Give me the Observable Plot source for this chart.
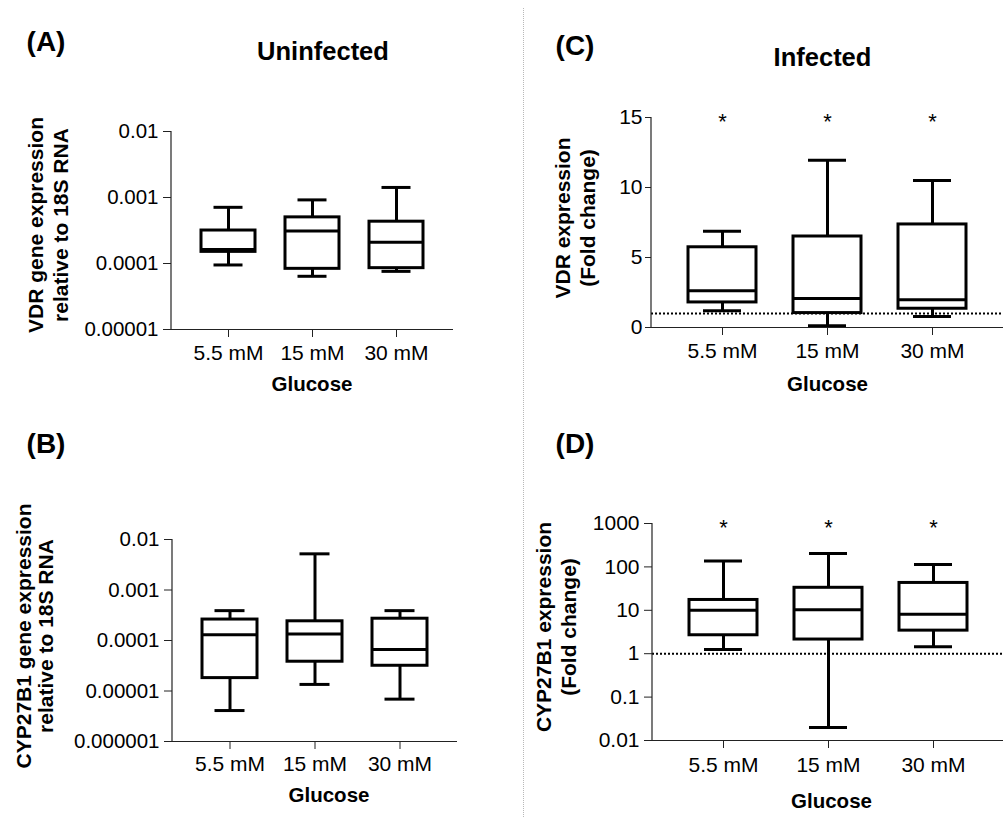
<!DOCTYPE html>
<html>
<head>
<meta charset="utf-8">
<script src="https://cdn.jsdelivr.net/npm/d3@7"></script>
<script src="https://cdn.jsdelivr.net/npm/@observablehq/plot@0.6"></script>
<style>
  html, body { margin: 0; padding: 0; background: #fff; }
  body { width: 1006px; height: 817px; position: relative; overflow: hidden;
         font-family: "Liberation Sans", Arial, sans-serif; color: #000; }
  .t { position: absolute; line-height: 1; white-space: pre; transform: translate(-50%, -50%); }
  .b { font-weight: bold; }
  .panel { position: absolute; }
  .panel svg text { font-family: "Liberation Sans", Arial, sans-serif; }
  .sep { position: absolute; left: 523px; top: 8px; height: 809px; border-left: 1px dotted #b8b8b8; }
</style>
</head>
<body>
<div class="sep"></div>
<script>
// ---------- data ----------
const categories = ["5.5 mM", "15 mM", "30 mM"];

// (A) VDR, uninfected (relative to 18S RNA)
const aMin = [0.000095, 0.000064, 0.000076];
const aQ1  = [0.00015, 0.000083, 0.000085];
const aMed = [0.000163, 0.00031, 0.00021];
const aQ3  = [0.000316, 0.0005, 0.00043];
const aMax = [0.00071, 0.00092, 0.00142];
const aTicks  = [0.00001, 0.0001, 0.001, 0.01];
const aLabels = ["0.00001", "0.0001", "0.001", "0.01"];

// (B) CYP27B1, uninfected
const bMin = [0.0000041, 0.0000135, 0.0000069];
const bQ1  = [0.000018, 0.000038, 0.0000316];
const bMed = [0.00013, 0.000135, 0.0000665];
const bQ3  = [0.00026, 0.00024, 0.00027];
const bMax = [0.00039, 0.0052, 0.00039];
const bTicks  = [0.000001, 0.00001, 0.0001, 0.001, 0.01];
const bLabels = ["0.000001", "0.00001", "0.0001", "0.001", "0.01"];

// (C) VDR, infected (fold change)
const cMin = [1.2, 0.12, 0.79];
const cQ1  = [1.79, 1.03, 1.34];
const cMed = [2.63, 2.08, 1.98];
const cQ3  = [5.73, 6.5, 7.36];
const cMax = [6.88, 11.94, 10.5];
const cTicks  = [0, 5, 10, 15];
const cLabels = ["0", "5", "10", "15"];
const cStars  = ["*", "*", "*"];

// (D) CYP27B1, infected (fold change)
const dMin = [1.25, 0.02, 1.44];
const dQ1  = [2.66, 2.12, 3.4];
const dMed = [10, 10.3, 8.1];
const dQ3  = [17.3, 33, 42.7];
const dMax = [136, 204, 114];
const dTicks  = [0.01, 0.1, 1, 10, 100, 1000];
const dLabels = ["0.01", "0.1", "1", "10", "100", "1000"];
const dStars  = ["*", "*", "*"];

const foldBaseline = 1;

// ---------- helpers ----------
function rowsOf(mn, q1, md, q3, mx) {
  return categories.map((c, i) => ({cat: c, min: mn[i], q1: q1[i], med: md[i], q3: q3[i], max: mx[i]}));
}

function leftAxisLine(index, scales, values, dims) {
  const ns = "http://www.w3.org/2000/svg";
  const l = document.createElementNS(ns, "line");
  l.setAttribute("x1", dims.marginLeft);
  l.setAttribute("x2", dims.marginLeft);
  l.setAttribute("y1", dims.marginTop);
  l.setAttribute("y2", dims.height - dims.marginBottom);
  l.setAttribute("stroke", "#222");
  l.setAttribute("stroke-width", 1.2);
  return l;
}

function panel(o) {
  const L = o.x0 - 130, T = o.y0 - 25;
  const W = Math.min(o.x1 + 3, 1006) - L;
  const H = o.y1 + 45 - T;
  const rows = o.rows;
  const sw = 3;
  const marks = [];
  if (o.ref != null) marks.push(Plot.ruleY([o.ref], {stroke: "#000", strokeWidth: 2, strokeDasharray: "2,2"}));
  marks.push(
    Plot.ruleX(rows, {x: "cat", y1: "q3", y2: "max", stroke: "#000", strokeWidth: sw}),
    Plot.ruleX(rows, {x: "cat", y1: "min", y2: "q1", stroke: "#000", strokeWidth: sw}),
    Plot.tickY(rows, {x: "cat", y: "max", stroke: "#000", strokeWidth: sw, insetLeft: o.capInset, insetRight: o.capInset}),
    Plot.tickY(rows, {x: "cat", y: "min", stroke: "#000", strokeWidth: sw, insetLeft: o.capInset, insetRight: o.capInset}),
    Plot.barY(rows, {x: "cat", y1: "q1", y2: "q3", fill: "#fff", stroke: "#000", strokeWidth: sw}),
    Plot.tickY(rows, {x: "cat", y: "med", stroke: "#000", strokeWidth: sw})
  );
  if (o.stars) {
    marks.push(Plot.text(categories, {x: d => d, y: o.starY, text: (d, i) => o.stars[i],
      fontSize: 22, dy: o.starDy, fill: "#000"}));
  }
  marks.push(
    Plot.ruleY([o.yDomain[0]], {stroke: "#222", strokeWidth: 1.2}),
    leftAxisLine,
    Plot.axisY(o.yTicks, {tickFormat: d => o.yLabels[o.yTicks.indexOf(d)], tickSize: o.tickSizeY,
      tickPadding: o.tickPadY, label: null, stroke: "#222", fontSize: o.fontY, fill: "#000"}),
    Plot.axisX({tickSize: 8, tickPadding: o.tickPadX, label: null, stroke: "#222", fontSize: o.fontX, fill: "#000"})
  );
  const svg = Plot.plot({
    width: W, height: H,
    marginLeft: o.x0 - L, marginRight: L + W - o.x1,
    marginTop: o.y0 - T, marginBottom: T + H - o.y1,
    style: {fontSize: o.fontX + "px", fontFamily: "'Liberation Sans', Arial, sans-serif",
            background: "transparent", color: "#000", maxWidth: "none", overflow: "visible"},
    x: {type: "band", domain: categories, paddingInner: 0.355, paddingOuter: 0.347},
    y: {type: o.yType, domain: o.yDomain, nice: false},
    marks
  });
  const wrap = document.createElement("div");
  wrap.className = "panel";
  wrap.style.left = L + "px";
  wrap.style.top = T + "px";
  wrap.appendChild(svg);
  document.body.appendChild(wrap);
}

function txt(s, cx, cy, size, bold, rot, lh) {
  const d = document.createElement("div");
  d.className = "t" + (bold ? " b" : "");
  d.textContent = s;
  d.style.left = cx + "px";
  d.style.top = cy + "px";
  d.style.fontSize = size + "px";
  if (lh) { d.style.lineHeight = lh + "px"; d.style.textAlign = "center"; }
  if (rot) d.style.transform = "translate(-50%, -50%) rotate(-90deg)";
  document.body.appendChild(d);
}

// ---------- panels ----------
panel({rows: rowsOf(aMin, aQ1, aMed, aQ3, aMax), x0: 171, x1: 453, y0: 131, y1: 329,
  yType: "log", yDomain: [0.00001, 0.01], yTicks: aTicks, yLabels: aLabels,
  tickSizeY: 8, tickPadY: 5, tickPadX: 8, fontX: 21, fontY: 20.5, capInset: 12.5});
panel({rows: rowsOf(bMin, bQ1, bMed, bQ3, bMax), x0: 172, x1: 457, y0: 539, y1: 741,
  yType: "log", yDomain: [0.000001, 0.01], yTicks: bTicks, yLabels: bLabels,
  tickSizeY: 8, tickPadY: 5, tickPadX: 7, fontX: 21, fontY: 20.5, capInset: 12.5});
panel({rows: rowsOf(cMin, cQ1, cMed, cQ3, cMax), x0: 651, x1: 1003, y0: 117, y1: 327,
  yType: "linear", yDomain: [0, 15], yTicks: cTicks, yLabels: cLabels,
  tickSizeY: 6, tickPadY: 3, tickPadX: 8, fontX: 21, fontY: 21, capInset: 15,
  ref: foldBaseline, stars: cStars, starY: 15, starDy: 4});
panel({rows: rowsOf(dMin, dQ1, dMed, dQ3, dMax), x0: 652, x1: 1003, y0: 523, y1: 740,
  yType: "log", yDomain: [0.01, 1000], yTicks: dTicks, yLabels: dLabels,
  tickSizeY: 8, tickPadY: 5, tickPadX: 9, fontX: 21, fontY: 21, capInset: 15,
  ref: foldBaseline, stars: dStars, starY: 1000, starDy: 4});

// ---------- text ----------
txt("(A)", 46, 42, 28, true);
txt("(B)", 46, 444, 28, true);
txt("(C)", 575, 45.5, 28, true);
txt("(D)", 575, 444, 28, true);
txt("Uninfected", 323, 52, 25.5, true);
txt("Infected", 822.5, 58, 25.5, true);

txt("VDR gene expression\nrelative to 18S RNA", 47.5, 225, 21, true, true, 25);
txt("CYP27B1 gene expression\nrelative to 18S RNA", 35, 636, 21, true, true, 22);
txt("VDR expression\n(Fold change)", 575, 218, 21, true, true, 25);
txt("CYP27B1 expression\n(Fold change)", 556, 627, 21, true, true, 25);

txt("Glucose", 312, 384, 20.5, true);
txt("Glucose", 329, 795, 20.5, true);
txt("Glucose", 827.5, 384, 20.5, true);
txt("Glucose", 831.5, 800.5, 20.5, true);
</script>
</body>
</html>
